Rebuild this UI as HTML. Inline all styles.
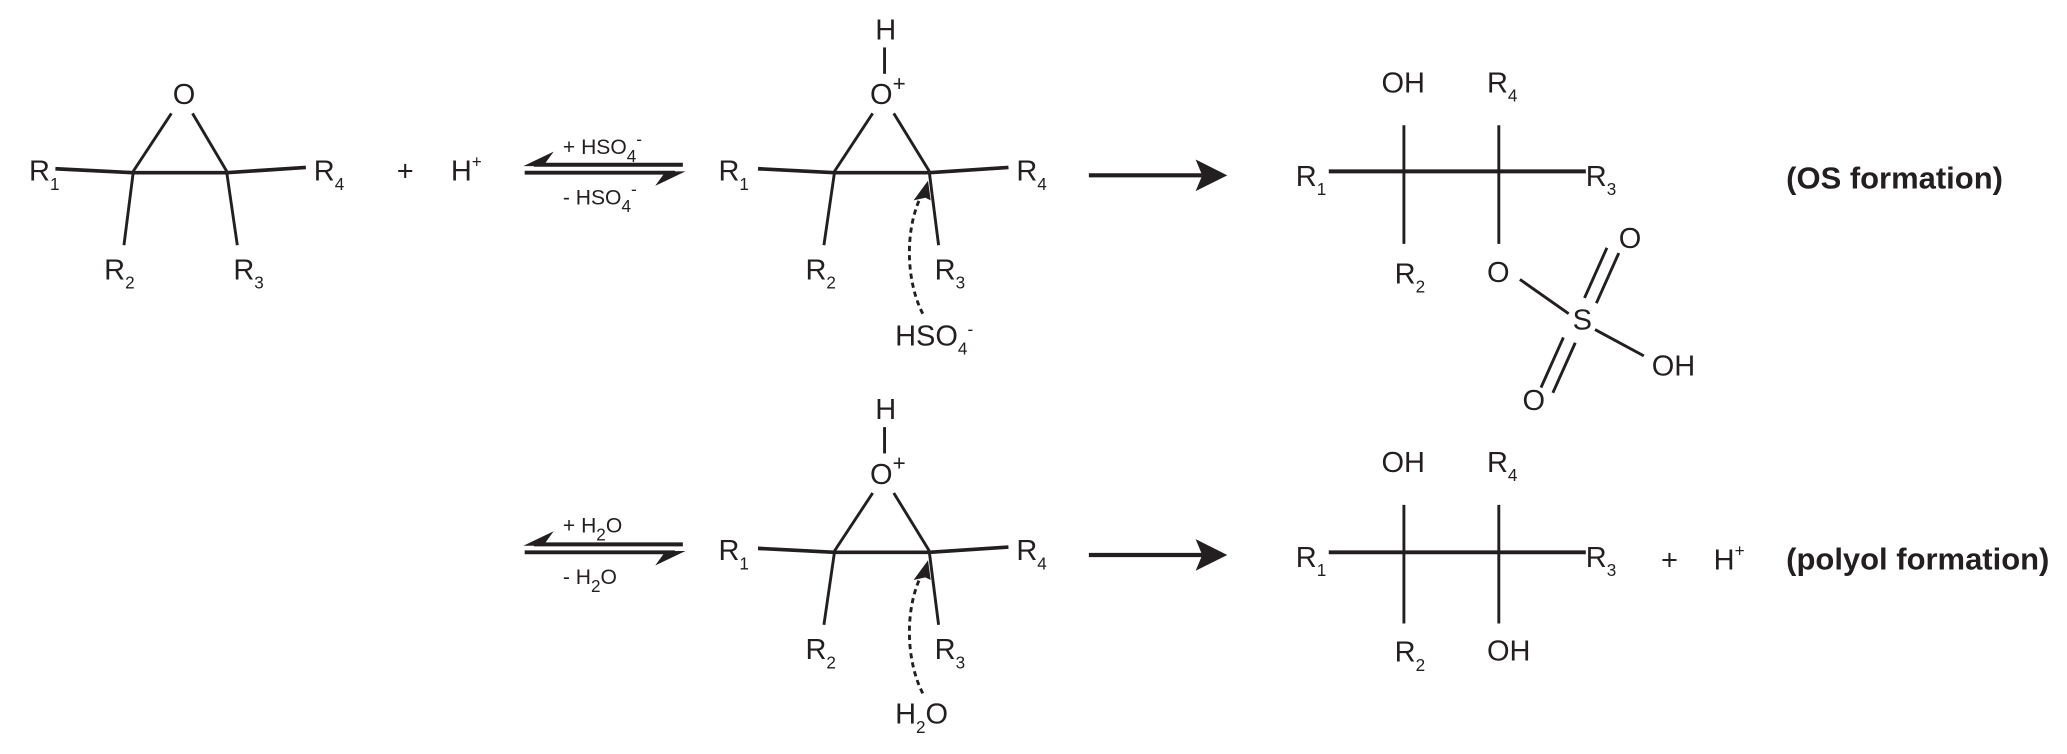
<!DOCTYPE html>
<html><head><meta charset="utf-8"><style>
html,body{margin:0;padding:0;background:#fff;}
svg{display:block}
text{font-family:"Liberation Sans Narrow","Liberation Sans",sans-serif;fill:#231f20;font-size:22px}
.s{font-size:13px}
.b{font-weight:bold;font-size:23.5px}
.sm{font-size:16px}
</style></head><body>
<svg width="2067" height="754" viewBox="0 0 1568 572" xmlns="http://www.w3.org/2000/svg">
<g stroke="#231f20" stroke-width="2.2" fill="none" stroke-linecap="butt">
<line x1="130" y1="86" x2="101" y2="130"/><line x1="146" y1="86" x2="172" y2="130"/>
<line x1="101" y1="131" x2="172" y2="131" stroke-width="2.8"/>
<line x1="42" y1="128" x2="101" y2="131" stroke-width="2.8"/>
<line x1="172" y1="131" x2="232" y2="127" stroke-width="2.8"/>
<line x1="101" y1="131" x2="94" y2="186"/><line x1="172" y1="131" x2="180" y2="186"/>
<line x1="405" y1="125" x2="518" y2="125" stroke-width="3"/>
<line x1="398" y1="131" x2="512" y2="131" stroke-width="3"/>
</g>
<g fill="#231f20">
<polygon points="397,126 420,115 412,126"/>
<polygon points="520,130 497,141 505,130"/>
</g>
<text x="22" y="137">R<tspan class="s" dy="7">1</tspan></text>
<text x="238" y="137">R<tspan class="s" dy="7">4</tspan></text>
<text x="79" y="212">R<tspan class="s" dy="7">2</tspan></text>
<text x="177" y="212">R<tspan class="s" dy="7">3</tspan></text>
<text x="131" y="79">O</text>
<text x="301" y="137">+</text>
<text x="342" y="137">H<tspan class="s" dy="-10">+</tspan></text>
<text x="427" y="117" class="sm">+ HSO<tspan class="s" dy="6">4</tspan><tspan class="s" dy="-13">-</tspan></text>
<text x="427" y="155" class="sm">- HSO<tspan class="s" dy="6">4</tspan><tspan class="s" dy="-13">-</tspan></text>

<g id="pe">
<g stroke="#231f20" stroke-width="2.2" fill="none">
<line x1="671" y1="36" x2="671" y2="56"/>
<line x1="662" y1="86" x2="633" y2="130"/><line x1="678" y1="86" x2="705" y2="130"/>
<line x1="633" y1="131" x2="705" y2="131" stroke-width="2.8"/>
<line x1="575" y1="128" x2="633" y2="131" stroke-width="2.8"/>
<line x1="705" y1="131" x2="765" y2="127" stroke-width="2.8"/>
<line x1="633" y1="131" x2="625" y2="186"/><line x1="705" y1="131" x2="712" y2="186"/>
<path d="M700 238 C688 215 685 175 700 146" stroke-dasharray="4,3"/>
<line x1="826" y1="133" x2="912" y2="133" stroke-width="3.2"/>
</g>
<g fill="#231f20">
<polygon points="704,137 693,152 702,150 706,152"/>
<polygon points="931,133 907,121 912,133 907,145"/>
</g>
<text x="664" y="30">H</text>
<text x="660" y="79">O<tspan class="s" dy="-10" style="font-size:17px">+</tspan></text>
<text x="545" y="137">R<tspan class="s" dy="7">1</tspan></text>
<text x="771" y="137">R<tspan class="s" dy="7">4</tspan></text>
<text x="611" y="212">R<tspan class="s" dy="7">2</tspan></text>
<text x="709" y="212">R<tspan class="s" dy="7">3</tspan></text>
</g>
<use href="#pe" transform="translate(0,288)"/>
<text x="679" y="262">HSO<tspan class="s" dy="7">4</tspan><tspan class="s" dy="-15">-</tspan></text>
<text x="679" y="549">H<tspan class="s" dy="7">2</tspan><tspan dy="-7">O</tspan></text>

<g stroke="#231f20" stroke-width="3"><line x1="405" y1="413" x2="518" y2="413"/><line x1="398" y1="419" x2="512" y2="419"/></g>
<g fill="#231f20"><polygon points="397,414 420,403 412,414"/><polygon points="520,418 497,429 505,418"/></g>
<text x="427" y="404" class="sm">+ H<tspan class="s" dy="6">2</tspan><tspan dy="-6">O</tspan></text>
<text x="427" y="443" class="sm">- H<tspan class="s" dy="6">2</tspan><tspan dy="-6">O</tspan></text>

<g stroke="#231f20" stroke-width="2.2" fill="none">
<line x1="1008" y1="130" x2="1203" y2="130" stroke-width="3"/>
<line x1="1065" y1="95" x2="1065" y2="185"/><line x1="1137" y1="95" x2="1137" y2="185"/>
<line x1="1153" y1="212" x2="1190" y2="238"/>
<line x1="1202" y1="226" x2="1219" y2="188"/><line x1="1211" y1="230" x2="1228" y2="192"/>
<line x1="1186" y1="256" x2="1169" y2="294"/><line x1="1195" y1="260" x2="1178" y2="298"/>
<line x1="1210" y1="250" x2="1247" y2="270"/>
</g>
<text x="1048" y="70">OH</text>
<text x="1128" y="70">R<tspan class="s" dy="7">4</tspan></text>
<text x="983" y="141">R<tspan class="s" dy="7">1</tspan></text>
<text x="1203" y="141">R<tspan class="s" dy="7">3</tspan></text>
<text x="1058" y="215">R<tspan class="s" dy="7">2</tspan></text>
<text x="1128" y="214">O</text>
<text x="1193" y="250">S</text>
<text x="1228" y="188">O</text>
<text x="1155" y="311">O</text>
<text x="1253" y="285">OH</text>
<text x="1355" y="143" class="b">(OS formation)</text>

<g stroke="#231f20" stroke-width="2.2" fill="none">
<line x1="1008" y1="419" x2="1203" y2="419" stroke-width="3"/>
<line x1="1065" y1="383" x2="1065" y2="473"/><line x1="1137" y1="383" x2="1137" y2="473"/>
</g>
<text x="1048" y="358">OH</text>
<text x="1128" y="358">R<tspan class="s" dy="7">4</tspan></text>
<text x="983" y="430">R<tspan class="s" dy="7">1</tspan></text>
<text x="1203" y="430">R<tspan class="s" dy="7">3</tspan></text>
<text x="1058" y="502">R<tspan class="s" dy="7">2</tspan></text>
<text x="1128" y="501">OH</text>
<text x="1260" y="432">+</text>
<text x="1300" y="432">H<tspan class="s" dy="-10">+</tspan></text>
<text x="1355" y="432" class="b">(polyol formation)</text>
</svg>
</body></html>
